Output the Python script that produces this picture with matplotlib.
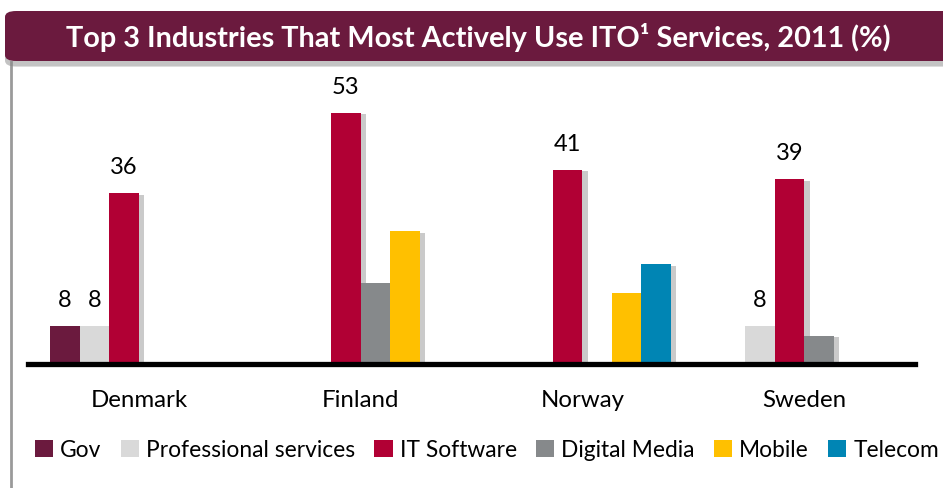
import matplotlib
matplotlib.use("Agg")
import matplotlib.pyplot as plt
import matplotlib.patheffects as pe
from matplotlib.patches import FancyBboxPatch, Patch
from matplotlib.lines import Line2D
import numpy as np

plt.rcParams["font.family"] = ["Lato", "DejaVu Sans"]

# ---- data ----
countries = ["Denmark", "Finland", "Norway", "Sweden"]
series = ["Gov", "Professional services", "IT Software", "Digital Media", "Mobile", "Telecom"]
colors = ["#6B1A3E", "#D9D9D9", "#B10034", "#86898B", "#FFC000", "#0085B4"]

gov = [8, np.nan, np.nan, np.nan]
prof_services = [8, np.nan, np.nan, 8]
it_software = [36, 53, 41, 39]
digital_media = [np.nan, 17, np.nan, 6]
mobile = [np.nan, 28, 15, np.nan]
telecom = [np.nan, np.nan, 21, np.nan]
values = [gov, prof_services, it_software, digital_media, mobile, telecom]

# which bars carry a value label in the original
labelled = [
    [True, False, False, False],
    [True, False, False, True],
    [True, True, True, True],
    [False, False, False, False],
    [False, False, False, False],
    [False, False, False, False],
]

title = "Top 3 Industries That Most Actively Use ITO\u00b9 Services, 2011 (%)"

W, H = 943, 489
fig = plt.figure(figsize=(W / 100, H / 100), dpi=100, facecolor="white")

# title banner
banner = FancyBboxPatch((5 / W, 1 - 62 / H), 1.2, 50 / H,
                        boxstyle="round,pad=0,rounding_size=0.012",
                        transform=fig.transFigure, facecolor="#6B1A3E",
                        edgecolor="none", zorder=2,
                        path_effects=[pe.SimplePatchShadow(offset=(0, -4), shadow_rgbFace="#888888", alpha=0.5),
                                      pe.Normal()])
fig.patches.append(banner)
fig.text(478 / W, 1 - 37 / H, title, color="white", fontsize=20.8, fontweight="bold",
         ha="center", va="center", zorder=3)

# left frame line
fig.add_artist(Line2D([11 / W, 11 / W], [0, 1 - 63 / H], transform=fig.transFigure,
                      color="#9A9A9A", lw=2))

ax = fig.add_axes([28 / W, (H - 365) / H, 887 / W, 284.4 / H])
x = np.arange(len(countries))
n = len(series)
width = 0.133
shadow = [pe.SimplePatchShadow(offset=(4, -1), shadow_rgbFace="#8a8a8a", alpha=0.45), pe.Normal()]
for i, (name, vals, col) in enumerate(zip(series, values, colors)):
    pos = x + (i - (n - 1) / 2) * width
    bars = ax.bar(pos, vals, width, color=col, label=name, zorder=2)
    for b, v, show in zip(bars, vals, labelled[i]):
        b.set_path_effects(shadow)
        if show and not np.isnan(v):
            ax.annotate(f"{v:g}", (b.get_x() + b.get_width() / 2, v), xytext=(0, 19),
                        textcoords="offset points", ha="center", va="center", fontsize=17)

ax.set_xlim(-0.5, 3.5)
ax.set_ylim(0, 60)
for s in ["top", "right", "left"]:
    ax.spines[s].set_visible(False)
ax.spines["bottom"].set_linewidth(3.8)
ax.spines["bottom"].set_zorder(3)
ax.set_yticks([])
ax.set_xticks(x)
ax.set_xticklabels(countries, fontsize=17.3)
ax.tick_params(axis="x", length=0, pad=18)

handles = [Patch(facecolor=c, label=s) for s, c in zip(series, colors)]
fig.legend(handles=handles, loc="center", bbox_to_anchor=(487 / W, 1 - 451 / H), ncol=6,
           frameon=False, fontsize=16.4, handlelength=0.8, handleheight=0.8,
           handletextpad=0.3, columnspacing=0.85, borderpad=0)

fig.savefig("out.png", dpi=100, facecolor="white")
